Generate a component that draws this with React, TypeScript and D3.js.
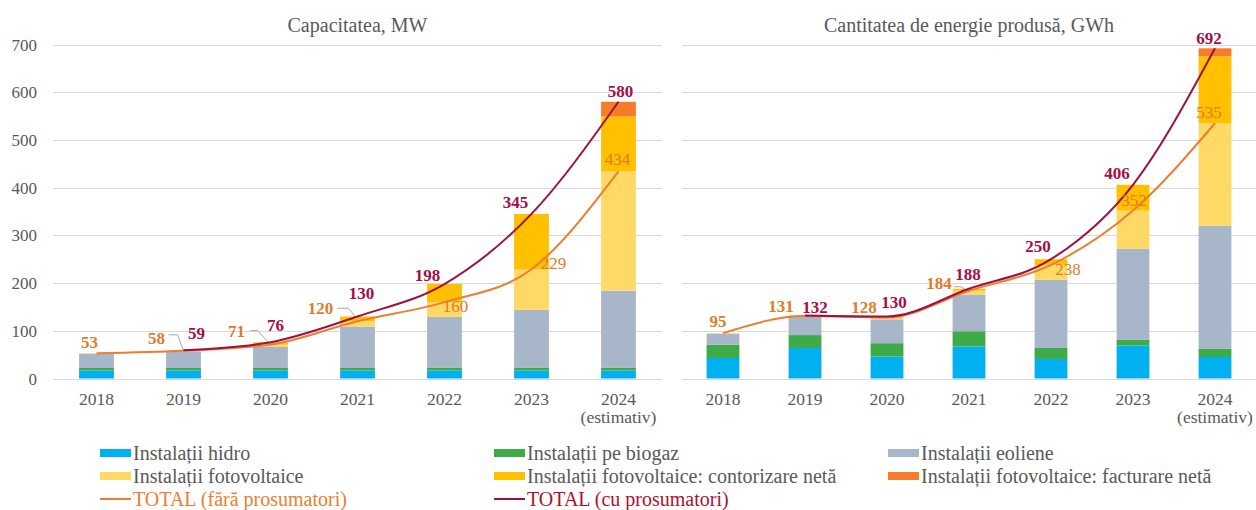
import React from "react";
import * as d3 from "d3";

const years = ["2018", "2019", "2020", "2021", "2022", "2023", "2024"];
const seriesNames = [
  "Instalații hidro",
  "Instalații pe biogaz",
  "Instalații eoliene",
  "Instalații fotovoltaice",
  "Instalații fotovoltaice: contorizare netă",
  "Instalații fotovoltaice: facturare netă",
];
const seriesColors = ["#00B0F0", "#3DAB47", "#A8B6C9", "#FFD966", "#FFC000", "#F57D2A"];

// Capacitatea, MW
const capHidro = [17, 17, 17, 17, 17, 17, 17];
const capBiogaz = [5, 5, 5, 5, 6, 6, 6];
const capEoliene = [30, 35, 44, 87, 106, 121, 161];
const capFV = [1, 1, 5, 11, 31, 85, 250];
const capContorizare = [0, 1, 5, 10, 38, 116, 115];
const capFacturare = [0, 0, 0, 0, 0, 0, 31];
const capTotalFara = [53, 58, 71, 120, 160, 229, 434];
const capTotalCu = [null, 59, 76, 130, 198, 345, 580];

// Cantitatea de energie produsă, GWh
const enHidro = [43, 64, 46, 67, 41, 69, 45];
const enBiogaz = [28, 27, 28, 32, 23, 12, 17];
const enEoliene = [23, 38, 50, 77, 143, 191, 258];
const enFV = [1, 2, 4, 8, 31, 80, 215];
const enContorizare = [0, 1, 2, 4, 12, 54, 140];
const enFacturare = [0, 0, 0, 0, 0, 0, 17];
const enTotalFara = [95, 131, 128, 184, 238, 352, 535];
const enTotalCu = [null, 132, 130, 188, 250, 406, 692];

const yTicks = [0, 100, 200, 300, 400, 500, 600, 700];

const FONT = "Liberation Serif, DejaVu Serif, Times, serif";
const GRAY_TEXT = "#595959";
const ORANGE_LINE = "#ED7D31";
const ORANGE_LABEL = "#E07B2C";
const RED_LINE = "#A0103E";
const RED_LABEL = "#A50D45";

type LabelPos = { dx: number; dy: number; bold?: boolean } | null;
type Leader = [number, number][] | null;

interface PanelProps {
  title: string;
  x0: number;
  x1: number;
  stacks: number[][];
  totalFara: number[];
  totalCu: (number | null)[];
  faraPos: LabelPos[];
  cuPos: LabelPos[];
  leaders: Leader[];
}

const yScale = d3.scaleLinear().domain([0, 700]).range([378.5, 44.5]);

function T(props: any) {
  const { size, weight, color, anchor, children, ...rest } = props;
  return (
    <text
      {...rest}
      textAnchor={anchor || "start"}
      fill={color || GRAY_TEXT}
      fontFamily={FONT}
      fontSize={size}
      fontWeight={weight || "normal"}
    >
      {children}
    </text>
  );
}

function Panel(p: PanelProps) {
  const x = d3.scaleBand().domain(years).range([p.x0, p.x1]).paddingInner(0.6).paddingOuter(0.3);
  const cx = (i: number) => (x(years[i]) as number) + x.bandwidth() / 2;
  const rows = years.map((yr, i) => {
    const o: any = { year: yr };
    p.stacks.forEach((s, k) => (o["s" + k] = s[i]));
    return o;
  });
  const stack = d3.stack().keys(p.stacks.map((_, k) => "s" + k))(rows);
  const line = d3
    .line<[number, number | null]>()
    .defined((d) => d[1] != null)
    .x((d) => cx(d[0]))
    .y((d) => yScale(d[1] as number))
    .curve(d3.curveMonotoneX);
  const faraPts: [number, number | null][] = p.totalFara.map((v, i) => [i, v]);
  const cuPts: [number, number | null][] = p.totalCu.map((v, i) => [i, v]);
  return (
    <g>
      <T x={(p.x0 + p.x1) / 2} y={32} anchor="middle" size={20}>
        {p.title}
      </T>
      {yTicks.map((t) => (
        <line key={t} x1={p.x0} x2={p.x1} y1={Math.round(yScale(t)) + 0.5} y2={Math.round(yScale(t)) + 0.5} stroke="#D9D9D9" strokeWidth={1} />
      ))}
      {stack.map((layer, k) =>
        layer.map((d, i) => (
          <rect
            key={k + "-" + i}
            x={x(years[i])}
            width={x.bandwidth()}
            y={yScale(d[1])}
            height={Math.max(0, yScale(d[0]) - yScale(d[1]))}
            fill={seriesColors[k]}
          />
        ))
      )}
      {years.map((yr, i) => (
        <g key={yr}>
          <T x={cx(i)} y={405} anchor="middle" size={17.5}>
            {yr}
          </T>
          {i === years.length - 1 && (
            <T x={cx(i)} y={423} anchor="middle" size={17.5}>
              (estimativ)
            </T>
          )}
        </g>
      ))}
      {p.leaders.map((l, i) =>
        l ? (
          <polyline
            key={"ld" + i}
            points={l.map(([dx, dy]) => `${cx(i) + dx},${yScale(p.totalFara[i]) + dy}`).join(" ")}
            fill="none"
            stroke="#A6A6A6"
            strokeWidth={1}
          />
        ) : null
      )}
      <path d={line(faraPts) || ""} fill="none" stroke={ORANGE_LINE} strokeWidth={2} />
      <path d={line(cuPts) || ""} fill="none" stroke={RED_LINE} strokeWidth={2} />
      {p.totalFara.map((v, i) => {
        const lp = p.faraPos[i];
        if (!lp) return null;
        return (
          <T key={"f" + i} x={cx(i) + lp.dx} y={yScale(v) + lp.dy + 6} anchor="middle" size={17} weight={lp.bold ? "bold" : "normal"} color={ORANGE_LABEL}>
            {v}
          </T>
        );
      })}
      {p.totalCu.map((v, i) => {
        const lp = p.cuPos[i];
        if (!lp || v == null) return null;
        return (
          <T key={"c" + i} x={cx(i) + lp.dx} y={yScale(v) + lp.dy + 6} anchor="middle" size={17} weight="bold" color={RED_LABEL}>
            {v}
          </T>
        );
      })}
    </g>
  );
}

function Legend() {
  const cols = [100, 494, 888];
  const rowsY = [453, 476, 499];
  const items: { label: string; color: string; kind: "rect" | "line"; textColor: string }[] = [
    ...seriesNames.map((n, k) => ({ label: n, color: seriesColors[k], kind: "rect" as const, textColor: GRAY_TEXT })),
    { label: "TOTAL (fără prosumatori)", color: ORANGE_LINE, kind: "line", textColor: ORANGE_LINE },
    { label: "TOTAL (cu prosumatori)", color: RED_LINE, kind: "line", textColor: "#B0102E" },
  ];
  return (
    <g>
      {items.map((it, idx) => {
        const c = idx % 3;
        const r = Math.floor(idx / 3);
        const x = cols[c];
        const y = rowsY[r];
        return (
          <g key={it.label}>
            {it.kind === "rect" ? (
              <rect x={x} y={y - 4} width={31} height={8} fill={it.color} />
            ) : (
              <line x1={x} x2={x + 31} y1={y} y2={y} stroke={it.color} strokeWidth={2} />
            )}
            <T x={x + 33} y={y + 7} size={20} color={it.textColor}>
              {it.label}
            </T>
          </g>
        );
      })}
    </g>
  );
}

export default function App() {
  const capStacks = [capHidro, capBiogaz, capEoliene, capFV, capContorizare, capFacturare];
  const enStacks = [enHidro, enBiogaz, enEoliene, enFV, enContorizare, enFacturare];
  return (
    <svg width={1256} height={510} style={{ position: "absolute", left: 0, top: 0, background: "#fff" }}>
      <rect x={0} y={0} width={1256} height={510} fill="#fff" />
      {yTicks.map((t) => (
        <T key={t} x={37} y={yScale(t) + 6} anchor="end" size={17}>
          {t}
        </T>
      ))}
      <Panel
        title="Capacitatea, MW"
        x0={53}
        x1={662}
        stacks={capStacks}
        totalFara={capTotalFara}
        totalCu={capTotalCu}
        faraPos={[
          { dx: -7, dy: -11, bold: true },
          { dx: -27, dy: -13, bold: true },
          { dx: -34, dy: -14, bold: true },
          { dx: -37, dy: -13, bold: true },
          { dx: 11, dy: 4 },
          { dx: 22, dy: -6 },
          { dx: -1, dy: -12 },
        ]}
        cuPos={[null, { dx: 13, dy: -17 }, { dx: 5, dy: -17 }, { dx: 4, dy: -23 }, { dx: -17, dy: -9 }, { dx: -16, dy: -12 }, { dx: 2, dy: -11 }]}
        leaders={[
          null,
          [[-15, -16], [-6, -16], [0, 0]],
          [[-20, -14], [-13, -14], [0, 0]],
          [[-20, -13], [-9, -13], [-1, -3]],
          null,
          null,
          null,
        ]}
      />
      <Panel
        title="Cantitatea de energie produsă, GWh"
        x0={682}
        x1={1256}
        stacks={enStacks}
        totalFara={enTotalFara}
        totalCu={enTotalCu}
        faraPos={[
          { dx: -5, dy: -12, bold: true },
          { dx: -24, dy: -10, bold: true },
          { dx: -23, dy: -10, bold: true },
          { dx: -30, dy: -8, bold: true },
          { dx: 17, dy: 4 },
          { dx: 1, dy: -11 },
          { dx: -6, dy: -11 },
        ]}
        cuPos={[null, { dx: 10, dy: -9 }, { dx: 7, dy: -14 }, { dx: -1, dy: -15 }, { dx: -13, dy: -13 }, { dx: -16, dy: -12 }, { dx: -6, dy: -10 }]}
        leaders={[null, null, null, [[-15, -4], [-8, -4], [-2, 0]], null, null, null]}
      />
      <Legend />
    </svg>
  );
}
